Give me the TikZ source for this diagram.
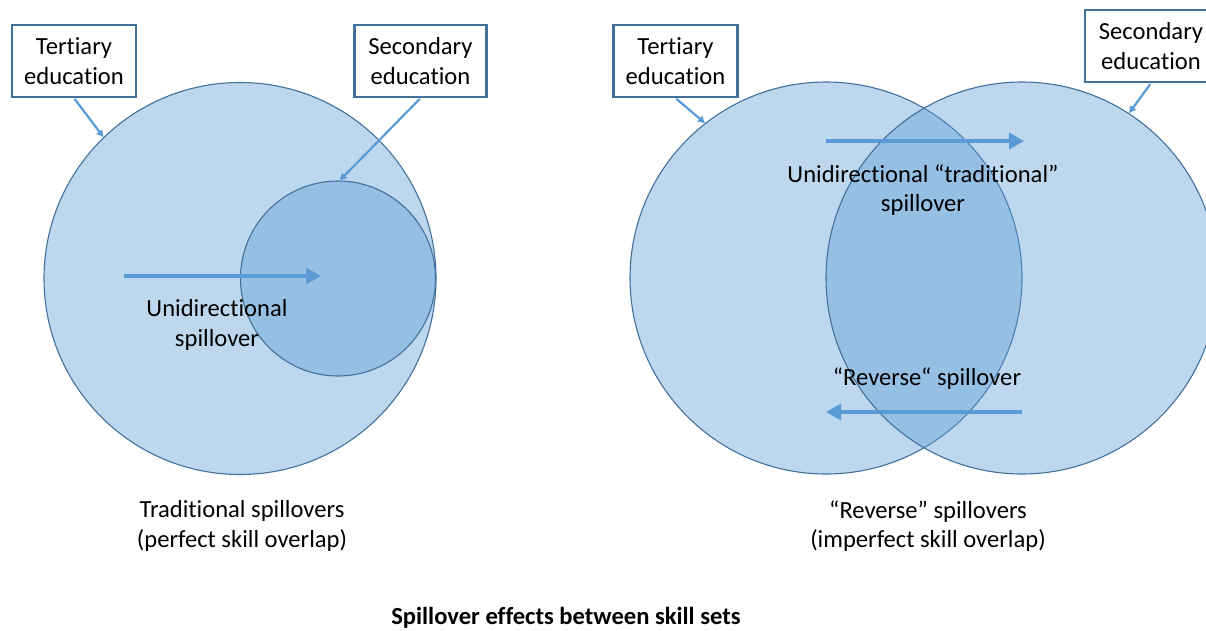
\documentclass[tikz,border=0pt]{standalone}
\usepackage{fontspec}
\setmainfont{Carlito}[Ligatures={NoCommon,NoRare,NoContextual}]
\usetikzlibrary{arrows.meta}
\newcommand\tI{t\kern0pt i}
\definecolor{fillc}{HTML}{5B9BD5}
\definecolor{linec}{HTML}{41719C}
\definecolor{arrc}{HTML}{5B9BD5}
\begin{document}
\begin{tikzpicture}[x=1pt,y=-1pt,
  every node/.style={font=\fontsize{24.6}{29.5}\selectfont, text=black},
  setc/.style={circle, inner sep=0pt, fill=fillc, fill opacity=0.4, draw=linec, draw opacity=1, line width=1.1pt},
  labelbox/.style={draw=linec, line width=2.2pt, fill=white, align=center, inner sep=0pt, minimum height=72pt},
  pointer/.style={draw=arrc, line width=2.2pt, -{Triangle[length=7pt,width=7pt]}, shorten <=1pt},
  flow/.style={draw=arrc, line width=4.5pt, -{Triangle[length=15pt,width=16pt]}},
  txt/.style={align=center, inner sep=0pt}
]
\useasboundingbox (0,0) rectangle (1206,630);
\clip (0,0) rectangle (1206,630);

% left diagram
\node[setc, minimum size=392pt] (bigL) at (240,278.5) {};
\node[setc, minimum size=195pt] (smallL) at (338,278.5) {};

% right diagram
\node[setc, minimum size=392pt] (tertR) at (826,278) {};
\node[setc, minimum size=392pt] (secR) at (1022,278) {};

% boxes
\node[labelbox, minimum width=124pt] (tL) at (74,61) {Ter\tI ary\\education};
\node[labelbox, minimum width=132pt] (sL) at (420.5,61) {Secondary\\education};
\node[labelbox, minimum width=124pt] (tR) at (675.5,61) {Ter\tI ary\\education};
\node[labelbox, minimum width=132pt] (sR) at (1151,46) {Secondary\\education};

% pointers
\draw[pointer] (tL.south) -- (bigL.134.5);
\draw[pointer] (sL.south) -- (smallL.89);
\draw[pointer] (tR.south) -- (tertR.128.5);
\draw[pointer] (sR.south) -- (secR.57);

% flow arrows
\coordinate (a1s) at (124,276);
\coordinate (a1e) at (321,276);
\draw[flow] (a1s) -- (a1e);
\coordinate (a2s) at (826,141);
\coordinate (a2e) at (1024,141);
\draw[flow] (a2s) -- (a2e);
\coordinate (a3s) at (1022,412);
\coordinate (a3e) at (826,412);
\draw[flow] (a3s) -- (a3e);

% labels
\node[txt] (l1) at (217,325) {Unidirec\tI onal\\spillover};
\node[txt] (l2) at (923,190) {Unidirec\tI onal “tradi\tI onal”\\spillover};
\node[txt] (l3) at (927,379) {“Reverse“ spillover};
\node[txt] (c1) at (242,526) {Tradi\tI onal spillovers\\(perfect skill overlap)};
\node[txt] (c2) at (928,526) {“Reverse” spillovers\\(imperfect skill overlap)};
\node[txt, font=\fontsize{24.6}{29.5}\selectfont\bfseries] (title) at (566,618) {Spillover effects between skill sets};
\end{tikzpicture}
\end{document}
